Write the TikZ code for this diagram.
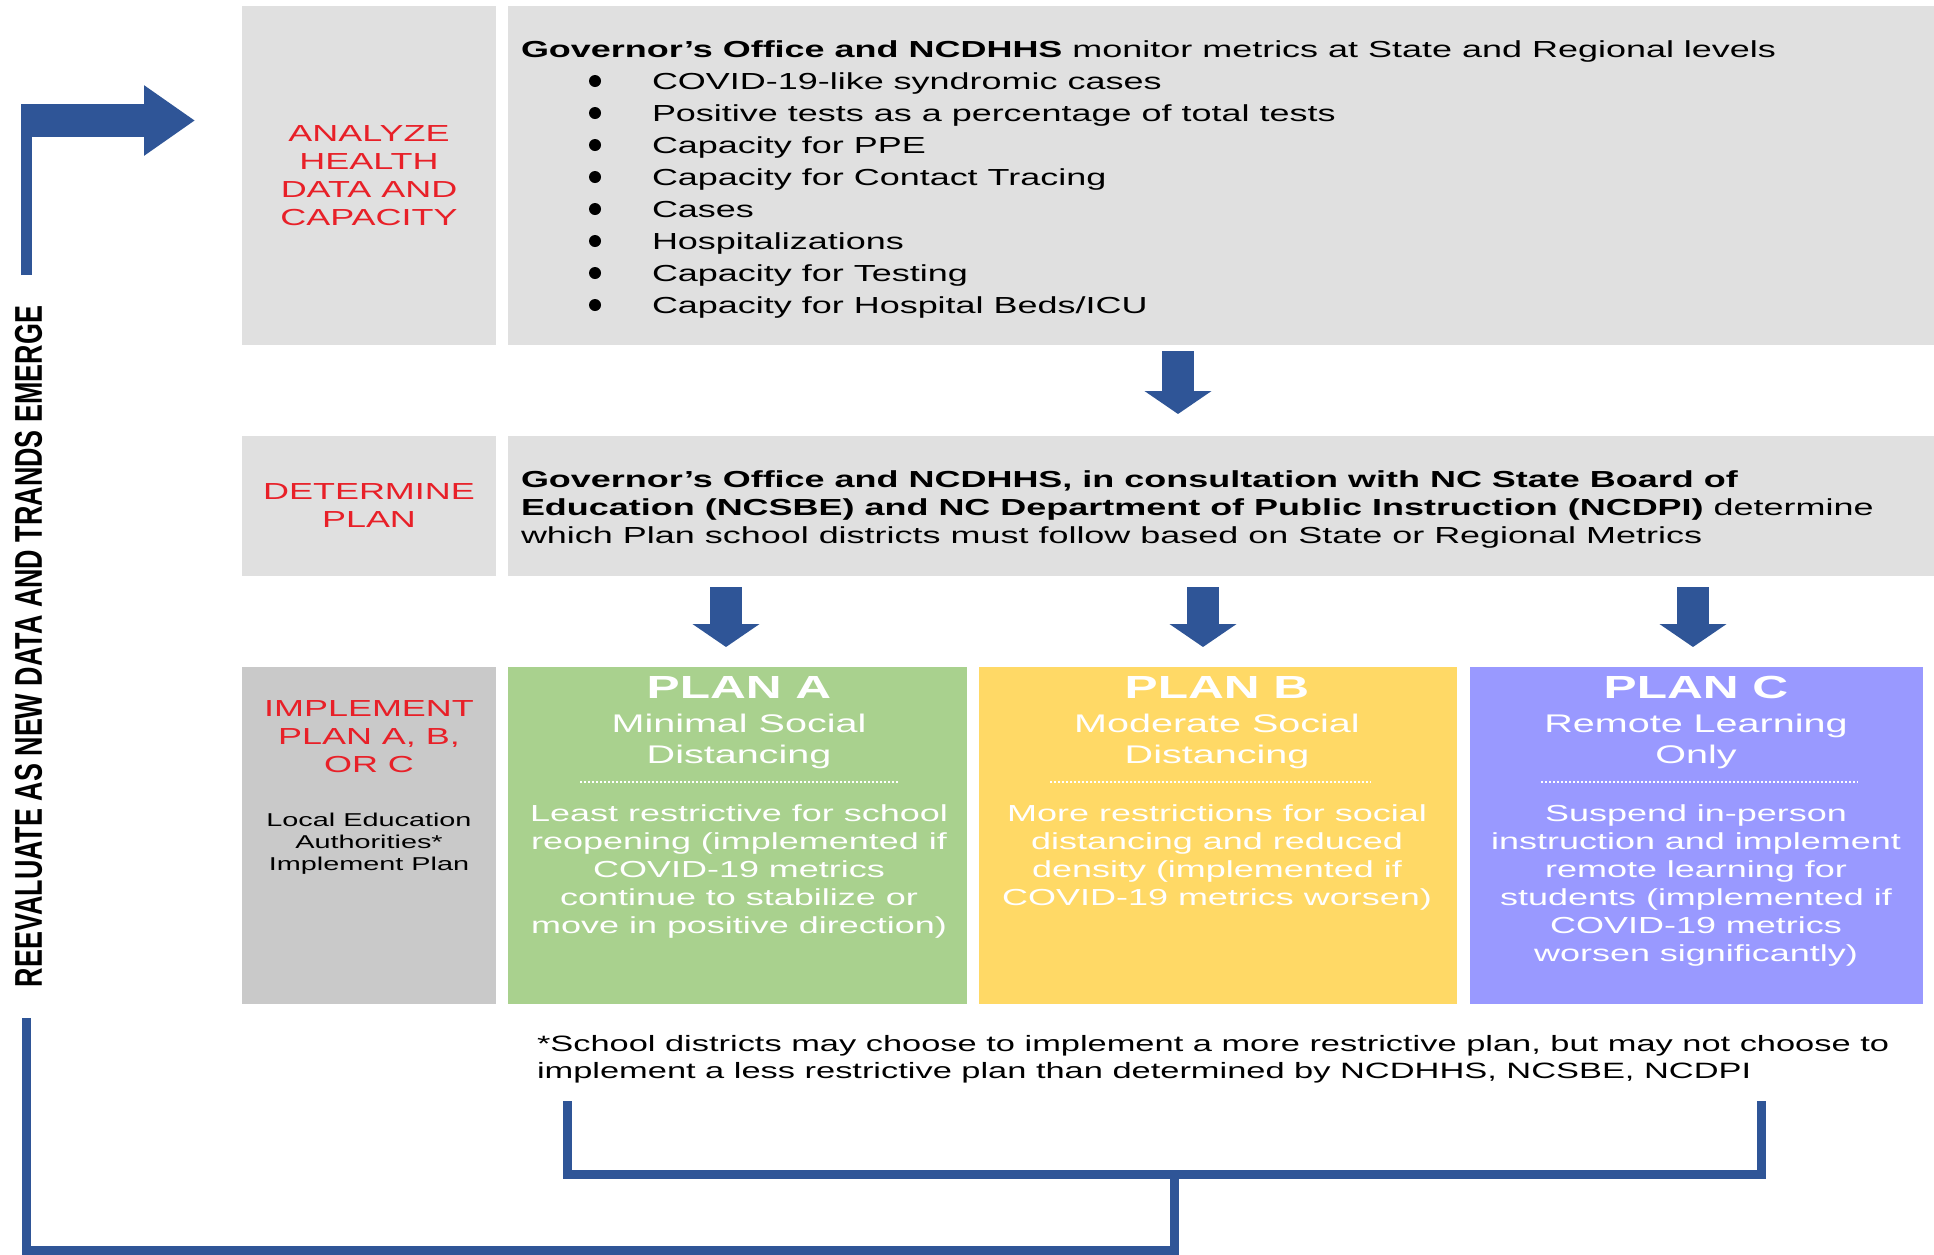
\documentclass[tikz,border=0pt]{standalone}
\usepackage{graphicx}
\usepackage{fontspec}
\setmainfont{Liberation Sans}[FakeStretch=1.55]
\newfontfamily\plainsans{Liberation Sans}
\usetikzlibrary{arrows.meta,calc,positioning}
\definecolor{navyblue}{RGB}{47,85,151}
\definecolor{tagred}{RGB}{232,32,40}
\definecolor{panelgray}{RGB}{224,224,224}
\definecolor{darkpanel}{RGB}{201,201,201}
\definecolor{planAgreen}{RGB}{169,209,142}
\definecolor{planByellow}{RGB}{255,217,102}
\definecolor{planCviolet}{RGB}{153,153,255}

\begin{document}
\begin{tikzpicture}
  [x=0.5pt,y=-0.5pt,
    every node/.style={inner sep=0pt,outer sep=0pt},
    panel/.style={rectangle,draw=none,fill=panelgray},
    tag/.style={text=tagred,align=center,font=\fontsize{11.6}{14}\selectfont},
    body/.style={align=left,font=\fontsize{11.6}{14}\selectfont},
    dot/.style={circle,fill=black,minimum size=6pt},
    plantitle/.style={text=white,font=\fontsize{16}{18}\selectfont\bfseries},
    plansub/.style={text=white,align=center,font=\fontsize{12.75}{15.5}\selectfont},
    plantext/.style={text=white,align=center,font=\fontsize{11.6}{14}\selectfont},
    dotline/.style={draw=white,line width=1pt,dash pattern=on 1pt off 1pt},
    downarrow/.style={draw=navyblue,line width=16.25pt,-{Triangle[width=33pt,length=11.5pt]}},
    loopline/.style={draw=navyblue,line width=4.5pt}]
  \fill[white] (0,0) rectangle (1934,1254);
  \useasboundingbox (0,0) rectangle (1934,1254);

  % analyze row
  \node[panel,tag,minimum width=127pt,minimum height=169.5pt] (analyze) at (369,175.5) {ANALYZE\\HEALTH\\DATA AND\\CAPACITY};
  \node[panel,minimum width=713pt,minimum height=169.5pt] (monitor) at (1221,175.5) {};
  \node[body,anchor=base west] (head) at (521,57) {\textbf{Governor’s Office and NCDHHS} monitor metrics at State and Regional levels};
  \foreach \metric [count=\i] in {COVID-19-like syndromic cases,Positive tests as a percentage of total tests,Capacity for PPE,Capacity for Contact Tracing,Cases,Hospitalizations,Capacity for Testing,Capacity for Hospital Beds/ICU}
  {
    \node[dot] (b\i) at (595,49+32*\i) {};
    \node[body,anchor=base west] (m\i) at (652,57.3+32*\i) {\metric};
  }

  % determine row
  \node[panel,tag,minimum width=127pt,minimum height=70pt] (determine) at (369,506) {DETERMINE\\PLAN};
  \node[panel,minimum width=713pt,minimum height=70pt] (decide) at (1221,506) {};
  \node[body,anchor=north west] (decidetext) at (521,470.3) {\textbf{Governor’s Office and NCDHHS, in consultation with NC State Board of}\\\textbf{Education (NCSBE) and NC Department of Public Instruction (NCDPI)} determine\\which Plan school districts must follow based on State or Regional Metrics};

  % implement row
  \node[panel,fill=darkpanel,minimum width=127pt,minimum height=168.5pt] (implement) at (369,835.5) {};
  \node[tag,anchor=north] (impltag) at (369,700.3) {IMPLEMENT\\PLAN A, B,\\OR C};
  \node[align=center,font=\fontsize{9.3}{11}\selectfont,anchor=north] (lea) at (369,812.6) {Local Education\\Authorities*\\Implement Plan};

  \node[panel,fill=planAgreen,minimum width=229.5pt,minimum height=168.5pt] (planA) at (737.5,835.5) {};
  \node[panel,fill=planByellow,minimum width=239pt,minimum height=168.5pt] (planB) at (1218,835.5) {};
  \node[panel,fill=planCviolet,minimum width=226.5pt,minimum height=168.5pt] (planC) at (1696.5,835.5) {};

  \node[plantitle,anchor=base] (titleA) at (739,698.5) {PLAN A};
  \node[plansub,anchor=north] (subA) at (739,713.6) {Minimal Social\\Distancing};
  \draw[dotline] (580,782) -- (898,782);
  \node[plantext,anchor=north] (textA) at (739,804.3) {Least restrictive for school\\reopening (implemented if\\COVID-19 metrics\\continue to stabilize or\\move in positive direction)};

  \node[plantitle,anchor=base] (titleB) at (1217,698.5) {PLAN B};
  \node[plansub,anchor=north] (subB) at (1217,713.6) {Moderate Social\\Distancing};
  \draw[dotline] (1050,782) -- (1371,782);
  \node[plantext,anchor=north] (textB) at (1217,804.3) {More restrictions for social\\distancing and reduced\\density (implemented if\\COVID-19 metrics worsen)};

  \node[plantitle,anchor=base] (titleC) at (1696,698.5) {PLAN C};
  \node[plansub,anchor=north] (subC) at (1696,713.6) {Remote Learning\\Only};
  \draw[dotline] (1541,782) -- (1858,782);
  \node[plantext,anchor=north] (textC) at (1696,804.3) {Suspend in-person\\instruction and implement\\remote learning for\\students (implemented if\\COVID-19 metrics\\worsen significantly)};

  \node[align=left,font=\fontsize{11.1}{13.5}\selectfont,anchor=north west] (note) at (537,1035) {*School districts may choose to implement a more restrictive plan, but may not choose to\\implement a less restrictive plan than determined by NCDHHS, NCSBE, NCDPI};

  % arrows between rows
  \draw[downarrow] ($(monitor.south)+(-43,6)$) -- ($(decide.north)+(-43,-22)$);
  \draw[downarrow] ($(decide.south -| planA.north)+(-11.5,11)$) -- ($(planA.north)+(-11.5,-20)$);
  \draw[downarrow] ($(decide.south -| planB.north)+(-15,11)$) -- ($(planB.north)+(-15,-20)$);
  \draw[downarrow] ($(decide.south -| planC.north)+(-3.5,11)$) -- ($(planC.north)+(-3.5,-20)$);

  % feedback loop
  \coordinate (brL) at (567,1101);
  \coordinate (brR) at (1761,1101);
  \coordinate (stem) at (1174,1174);
  \coordinate (corner) at (1174,1250);
  \coordinate (loopstart) at (26.5,1018);
  \coordinate (loopend) at (26.5,275);
  \coordinate (turn) at (21,120.5);
  \draw[loopline] (brL) |- (stem) -| (brR);
  \draw[loopline] (stem) -- (corner) -| (loopstart);
  \node[rotate=90] (reeval) at (28.5,646.5) {\resizebox{340.5pt}{13.5pt}{\plainsans\bfseries REEVALUATE AS NEW DATA AND TRANDS EMERGE}};
  \draw[navyblue,line width=5.5pt] (loopend) -- (26.5,130);
  \draw[navyblue,line width=16.5pt,-{Triangle[width=33.5pt,length=25.5pt]}] (turn) -- ($(turn -| analyze.west)+(-47,0)$);
\end{tikzpicture}
\end{document}
